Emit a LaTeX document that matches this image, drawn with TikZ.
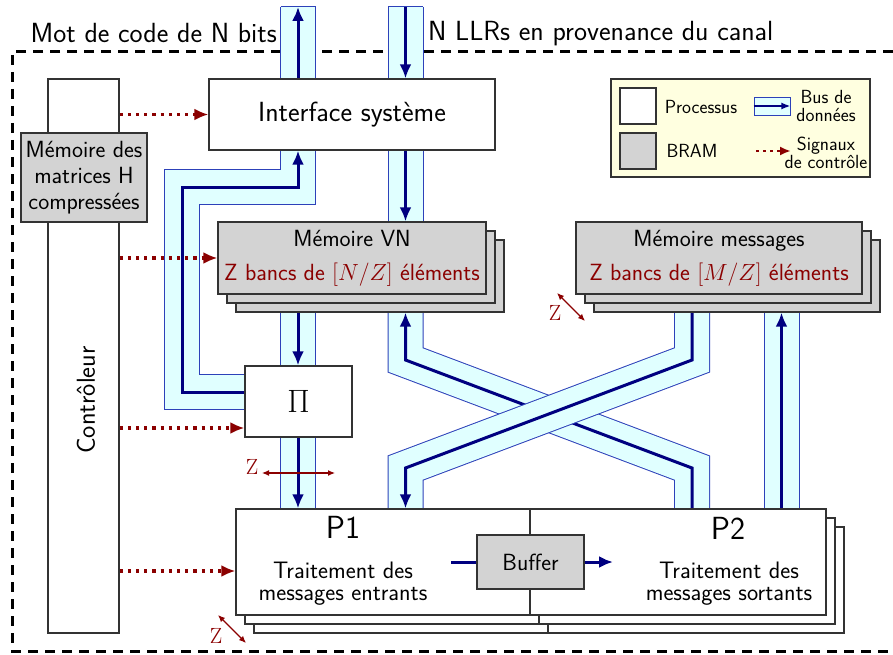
\RequirePackage{fix-cm}
\documentclass[tikz,border=0pt]{standalone}
\usepackage{fontspec}
\usetikzlibrary{arrows.meta,calc}
\pgfdeclarelayer{background}
\pgfsetlayers{background,main}

\definecolor{navyline}{RGB}{0,0,128}
\definecolor{busedge}{RGB}{45,65,185}
\definecolor{busfill}{RGB}{224,255,255}
\definecolor{ctlred}{RGB}{139,0,0}
\definecolor{bramgray}{RGB}{211,211,211}
\definecolor{legfill}{RGB}{255,255,224}
\definecolor{boxline}{RGB}{51,51,51}

\newcommand\fs[2]{\fontsize{#1}{#2}\selectfont}

% a data bus: thin blue border, light fill, dark core line with arrow
\newcommand\databus[1]{%
  \draw[line width=36pt, busedge] #1;
  \draw[line width=34pt, busfill] #1;
  \draw[buscore] #1;}

\begin{document}
\begin{tikzpicture}[x=1pt, y=-1pt, line join=miter,
  proc/.style={draw=boxline, line width=1.2pt, fill=white, inner sep=0pt,
    align=center, font={\sffamily\fs{23.4}{26}}},
  bramstyle/.style={proc, fill=bramgray},
  buscore/.style={navyline, line width=3pt, -{Latex[length=14pt,width=12pt]}},
  ctrlsig/.style={ctlred, line width=3.2pt, dash pattern=on 3.2pt off 5pt,
    -{Latex[length=14pt,width=12pt]}},
  legsig/.style={ctlred, line width=2.5pt, dash pattern=on 2.5pt off 4.5pt,
    -{Latex[length=11pt,width=9pt]}},
  zarrow/.style={ctlred, line width=1.2pt,
    {Latex[length=7pt,width=6pt]}-{Latex[length=7pt,width=6pt]}},
  zlabel/.style={text=ctlred, font={\rmfamily\fs{22}{24}}, inner sep=0pt},
  bigtext/.style={font={\sffamily\fs{27.7}{32}}},
  legtext/.style={align=center, font={\sffamily\fs{19}{18.5}}},
]
\useasboundingbox (0,0) rectangle (893,655);

% bus columns and bend levels
\coordinate (colL) at (182,0);
\coordinate (colA) at (298,0);
\coordinate (colB) at (405.5,0);
\coordinate (colC) at (692,0);
\coordinate (colD) at (781.5,0);
\coordinate (top) at (0,7);
\coordinate (loopy) at (0,187);
\coordinate (xhi) at (0,360);
\coordinate (xlo) at (0,468);

% headings
\node[bigtext, anchor=base east, inner sep=0pt] (wordout) at (277,43) {Mot de code de N bits};
\node[bigtext, anchor=base west, inner sep=0pt] (llrin) at (428,41) {N LLRs en provenance du canal};

% controller and H memory
\node[proc, minimum width=71pt, minimum height=554pt] (ctrl) at (83.5,356) {};
\node[font={\sffamily\fs{26}{30}}, rotate=90] (ctrltxt) at (86,400) {Contrôleur};
\node[bramstyle, minimum width=126pt, minimum height=89pt] (hmem) at (84,177.5)
  {Mémoire des\\matrices H\\compressées};

% system interface
\node[proc, bigtext, minimum width=286pt, minimum height=71pt] (iface) at (352,114.5)
  {Interface système};

% VN memory (Z banks)
\node[bramstyle, minimum width=268pt, minimum height=72pt] (vnb2) at (370,276) {};
\node[bramstyle, minimum width=268pt, minimum height=72pt] (vnb1) at (361,267) {};
\node[bramstyle, minimum width=268pt, minimum height=72pt, font={\sffamily\fs{23.4}{34}}] (vn) at (352,258)
  {Mémoire VN\\\textcolor{ctlred}{Z bancs de $[N/Z]$ éléments}};

% message memory (Z banks)
\node[bramstyle, minimum width=286pt, minimum height=72pt] (msgb2) at (737,276) {};
\node[bramstyle, minimum width=286pt, minimum height=72pt] (msgb1) at (728,267) {};
\node[bramstyle, minimum width=286pt, minimum height=72pt, font={\sffamily\fs{23.4}{34}}] (msg) at (719,258)
  {Mémoire messages\\\textcolor{ctlred}{Z bancs de $[M/Z]$ éléments}};

% permutation
\node[proc, minimum width=107pt, minimum height=71pt, font={\fs{24.88}{30}}] (pi) at (298.5,401.5) {\scalebox{1.3}{$\Pi$}};

% processing units P1 and P2
\node[proc, minimum width=294pt, minimum height=106pt] (p1b2) at (401,580) {};
\node[proc, minimum width=296pt, minimum height=106pt] (p2b2) at (696,580) {};
\node[proc, minimum width=294pt, minimum height=106pt] (p1b1) at (392,571) {};
\node[proc, minimum width=296pt, minimum height=106pt] (p2b1) at (687,571) {};
\node[proc, minimum width=294pt, minimum height=106pt] (p1) at (383,562) {};
\node[proc, minimum width=296pt, minimum height=106pt] (p2) at (678,562) {};
\node[font={\sffamily\fs{32}{36}}] (p1title) at (343,527) {P1};
\node[font={\sffamily\fs{32}{36}}] (p2title) at (728,528) {P2};
\node[align=center, font={\sffamily\fs{23.8}{22}}] (p1text) at (343,584) {Traitement des\\messages entrants};
\node[align=center, font={\sffamily\fs{23.8}{22}}] (p2text) at (729,584) {Traitement des\\messages sortants};

% buffer between P1 and P2
\node[bramstyle, minimum width=107pt, minimum height=54pt] (buf) at (530.5,562) {Buffer};
\coordinate (bufin) at (451,562);
\coordinate (bufout) at (613,562);
\draw[navyline, line width=3pt] (bufin) -- (buf.west);
\draw[buscore] (buf.east) -- (bufout);

% legend
\node[draw=boxline, line width=1.2pt, fill=legfill, minimum width=259pt, minimum height=98pt] (legend) at (740.5,128) {};
\node[proc, minimum width=36pt, minimum height=36pt] (legproc) at (638,106) {};
\node[bramstyle, minimum width=36pt, minimum height=36pt] (legbram) at (638,151) {};
\node[legtext] (legproctxt) at (701,107) {Processus};
\node[legtext] (legbramtxt) at (692,151) {BRAM};
\node[draw=busedge, line width=0.8pt, fill=busfill, minimum width=36pt, minimum height=18pt, inner sep=0pt] (legbus) at (772,106) {};
\draw[navyline, line width=1.6pt, -{Latex[length=9pt,width=7pt]}] (legbus.west) -- (legbus.east);
\node[legtext] (legbustxt) at (826,106) {Bus de\\données};
\coordinate (legsigA) at (756,151);
\coordinate (legsigB) at (791,151);
\draw[legsig] (legsigA) -- (legsigB);
\node[legtext] (legsigtxt) at (826,153) {Signaux\\de contrôle};

% control signals
\coordinate (pisig) at ($(pi.west)+(0,26.5)$);
\coordinate (p1sig) at ($(p1.west)+(0,9)$);
\draw[ctrlsig] (ctrl.east |- iface.west) -- (iface.west);
\draw[ctrlsig] (ctrl.east |- vn.west) -- (vn.west);
\draw[ctrlsig] (ctrl.east |- pisig) -- (pisig);
\draw[ctrlsig] (ctrl.east |- p1sig) -- (p1sig);

% parallelism marks
\node[zlabel] (zpi) at (252,467) {Z};
\coordinate (zpiA) at (262,473);
\coordinate (zpiB) at (335,473);
\draw[zarrow] (zpiA) -- (zpiB);
\node[zlabel] (zmsg) at (555,313) {Z};
\coordinate (zmsgA) at (557,293);
\coordinate (zmsgB) at (585,321);
\draw[zarrow] (zmsgA) -- (zmsgB);
\node[zlabel] (zp) at (216,636) {Z};
\coordinate (zpA) at (218,615);
\coordinate (zpB) at (246,643);
\draw[zarrow] (zpA) -- (zpB);

\begin{pgfonlayer}{background}
  % decoder boundary
  \draw[line width=3pt, dash pattern=on 10pt off 7pt] (893,52) -| (12,651) -- (893,651);
  % decoded word out, channel LLRs in
  \databus{(colA |- iface.north) -- (colA |- top)}
  \draw[busedge, line width=1pt] ($(colA |- top)+(-17.5,0)$) -- ($(colA |- top)+(17.5,0)$);
  \databus{(colB |- top) -- (colB |- iface.north)}
  \draw[busedge, line width=1pt] ($(colB |- top)+(-17.5,0)$) -- ($(colB |- top)+(17.5,0)$);
  % interface to VN memory
  \databus{(colB |- iface.south) -- (colB |- vn.north)}
  % VN memory to permutation to P1
  \databus{(colA |- vnb2.south) -- (colA |- pi.north)}
  \databus{(colA |- pi.south) -- (colA |- p1.north)}
  % permutation back to the interface
  \coordinate (piout) at ($(pi.west)+(0,-9.5)$);
  \databus{(piout) -- (colL |- piout) -- (colL |- loopy) -- (colA |- loopy) -- (colA |- iface.south)}
  % crossing buses
  \databus{(colC |- p2.north) -- (colC |- xlo) -- (colB |- xhi) -- (colB |- vnb2.south)}
  \databus{(colC |- msgb2.south) -- (colC |- xhi) -- (colB |- xlo) -- (colB |- p1.north)}
  % P2 to message memory
  \databus{(colD |- p2.north) -- (colD |- msgb2.south)}
\end{pgfonlayer}
\end{tikzpicture}
\end{document}
